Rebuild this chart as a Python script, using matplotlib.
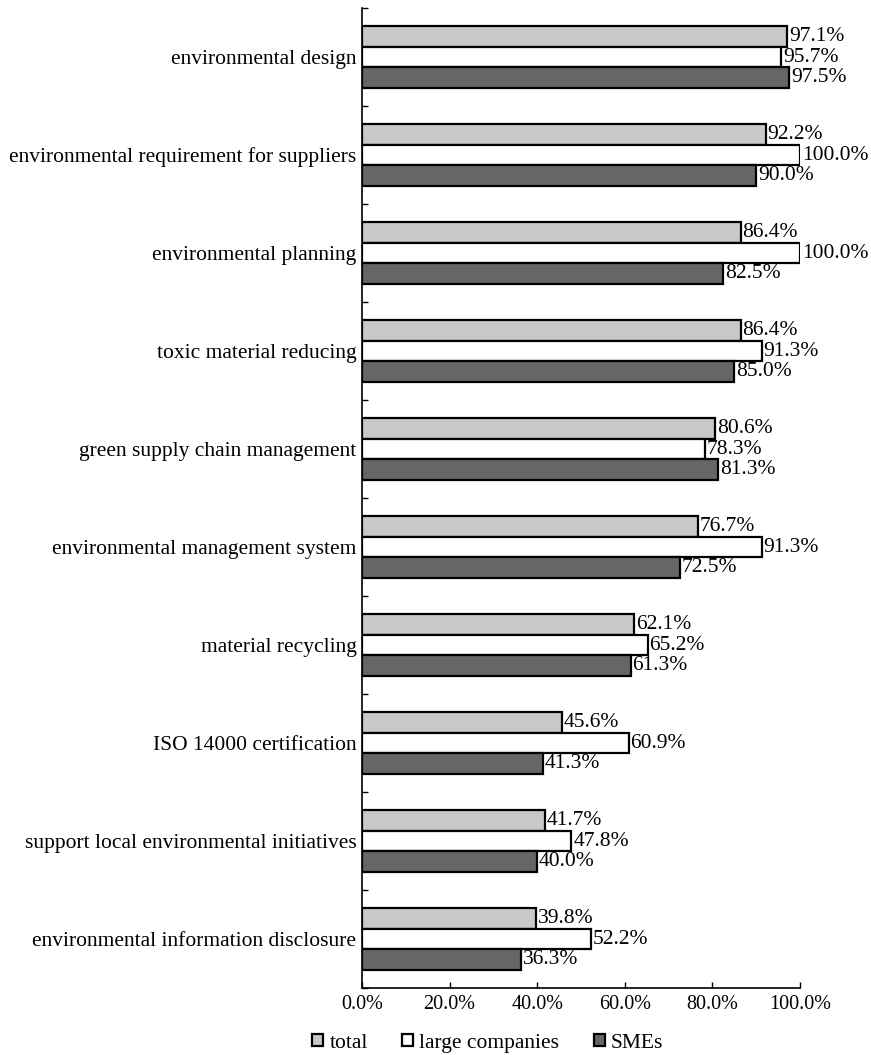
import numpy as np
import matplotlib.pyplot as plt
from matplotlib.ticker import FixedLocator, PercentFormatter

plt.rcParams['font.family'] = ['Liberation Serif', 'DejaVu Serif']

categories = [
    "environmental design",
    "environmental requirement for suppliers",
    "environmental planning",
    "toxic material reducing",
    "green supply chain management",
    "environmental management system",
    "material recycling",
    "ISO 14000 certification",
    "support local environmental initiatives",
    "environmental information disclosure",
]
total = [97.1, 92.2, 86.4, 86.4, 80.6, 76.7, 62.1, 45.6, 41.7, 39.8]
large = [95.7, 100.0, 100.0, 91.3, 78.3, 91.3, 65.2, 60.9, 47.8, 52.2]
smes = [97.5, 90.0, 82.5, 85.0, 81.3, 72.5, 61.3, 41.3, 40.0, 36.3]

series = [("total", total, "#c8c8c8"),
          ("large companies", large, "#ffffff"),
          ("SMEs", smes, "#666666")]

fig = plt.figure(figsize=(8.71, 10.55), dpi=100)
ax = fig.add_axes([0.4156, 0.0635, 0.503, 0.9289])

n = len(categories)
y = np.arange(n)
h = 0.21
for i, (name, vals, col) in enumerate(series):
    pos = y + (i - 1) * h
    bars = ax.barh(pos, vals, height=h, color=col, edgecolor="black",
                   linewidth=1.6, label=name)
    for b, v in zip(bars, vals):
        ax.text(b.get_width() + 0.4, b.get_y() + b.get_height() / 2,
                "%.1f%%" % v, va="center", ha="left", fontsize=15.5)

ax.set_ylim(n - 0.5, -0.5)
ax.set_xlim(0, 100)
ax.set_yticks(y)
ax.set_yticklabels(categories, fontsize=15.5)
ax.yaxis.set_minor_locator(FixedLocator(np.arange(-0.5, n, 1.0)))
ax.tick_params(axis="y", which="major", length=0, pad=4)
ax.tick_params(axis="y", which="minor", length=4, direction="in", width=1)
ax.set_xticks(np.arange(0, 101, 20))
ax.xaxis.set_major_formatter(PercentFormatter(decimals=1))
ax.tick_params(axis="x", direction="in", length=4, width=1, labelsize=14.5, pad=5)
for s in ["top", "right"]:
    ax.spines[s].set_visible(False)
for s in ["left", "bottom"]:
    ax.spines[s].set_linewidth(1.2)

fig.legend(loc="lower center", bbox_to_anchor=(0.56, -0.016), ncol=3, frameon=False,
           fontsize=15.5, handlelength=0.5, handleheight=0.5, columnspacing=1.6,
           handletextpad=0.3)

fig.savefig("out.png", dpi=100)
